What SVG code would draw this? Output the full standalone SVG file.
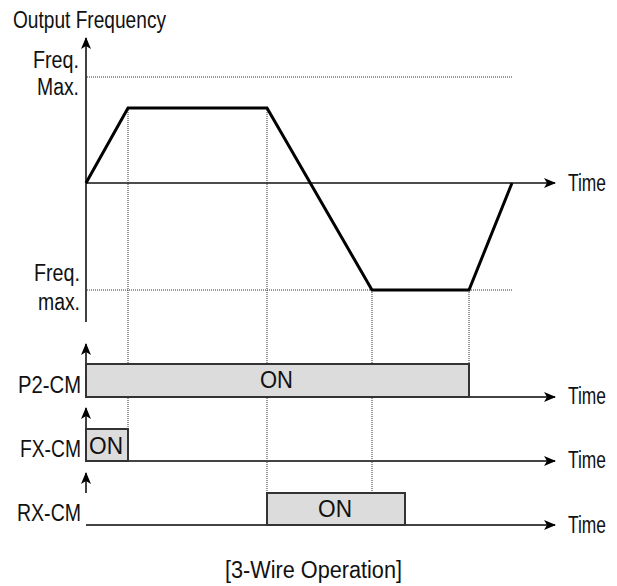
<svg xmlns="http://www.w3.org/2000/svg" width="617" height="586" viewBox="0 0 617 586">
<style>
text{font-family:"Liberation Sans",Arial,sans-serif;font-size:23px;fill:#111;}
.end{text-anchor:end;}
.dot{stroke:#333;stroke-width:1;stroke-dasharray:1 1;fill:none;}
.axis{stroke:#111;stroke-width:1.6;fill:none;}
.taxis{stroke:#444;stroke-width:2;fill:none;}
.wave{stroke:#000;stroke-width:3;fill:none;stroke-linejoin:miter;}
.box{fill:#dcdcdc;stroke:#333;stroke-width:2;}
</style>
<defs>
<marker id="ah" viewBox="0 0 12 10" refX="11" refY="5" markerWidth="12" markerHeight="10" markerUnits="userSpaceOnUse" orient="auto">
<path d="M0,0 L12,5 L0,10 L3,5 Z" fill="#000"/>
</marker>
</defs>
<rect width="617" height="586" fill="#fff"/>
<g id="guides">
<line class="dot" x1="87" y1="77" x2="512" y2="77"/>
<line class="dot" x1="87" y1="290" x2="512" y2="290"/>
<line class="dot" x1="128" y1="108" x2="128" y2="429"/>
<line class="dot" x1="267" y1="108" x2="267" y2="493"/>
<line class="dot" x1="372" y1="290" x2="372" y2="493"/>
<line class="dot" x1="469" y1="290" x2="469" y2="364"/>
</g>
<g id="connectors">
<line class="axis" x1="86" y1="322" x2="86" y2="38" marker-end="url(#ah)"/>
<line class="axis" x1="86" y1="183" x2="555" y2="183" marker-end="url(#ah)"/>
<line class="taxis" x1="86" y1="397" x2="555" y2="397" marker-end="url(#ah)"/>
<line class="taxis" x1="86" y1="461" x2="555" y2="461" marker-end="url(#ah)"/>
<line class="taxis" x1="86" y1="525" x2="555" y2="525" marker-end="url(#ah)"/>
<line class="axis" x1="86" y1="364" x2="86" y2="344" marker-end="url(#ah)"/>
<line class="axis" x1="86" y1="429" x2="86" y2="408" marker-end="url(#ah)"/>
<line class="axis" x1="86" y1="493" x2="86" y2="473" marker-end="url(#ah)"/>
</g>
<g id="waveform">
<polyline class="wave" points="86,183 128,108 267,108 372,290 469,290 512,183"/>
</g>
<g id="p2cm">
<rect class="box" x="86" y="364" width="383" height="33"/>
<text x="260" y="388" textLength="33" lengthAdjust="spacingAndGlyphs">ON</text>
<text class="end" x="81" y="393" textLength="63" lengthAdjust="spacingAndGlyphs">P2-CM</text>
</g>
<g id="fxcm">
<rect class="box" x="86" y="429" width="42" height="32"/>
<text x="89" y="454" textLength="34" lengthAdjust="spacingAndGlyphs">ON</text>
<text class="end" x="81" y="457" textLength="61" lengthAdjust="spacingAndGlyphs">FX-CM</text>
</g>
<g id="rxcm">
<rect class="box" x="267" y="493" width="138" height="32"/>
<text x="318" y="517" textLength="34" lengthAdjust="spacingAndGlyphs">ON</text>
<text class="end" x="81" y="521" textLength="64" lengthAdjust="spacingAndGlyphs">RX-CM</text>
</g>
<g id="labels">
<text x="13" y="28" textLength="153" lengthAdjust="spacingAndGlyphs">Output Frequency</text>
<text class="end" x="79" y="68" textLength="46" lengthAdjust="spacingAndGlyphs">Freq.</text>
<text class="end" x="79" y="95" textLength="42" lengthAdjust="spacingAndGlyphs">Max.</text>
<text class="end" x="80" y="281" textLength="46" lengthAdjust="spacingAndGlyphs">Freq.</text>
<text class="end" x="80" y="310" textLength="42" lengthAdjust="spacingAndGlyphs">max.</text>
<text x="568" y="191" textLength="38" lengthAdjust="spacingAndGlyphs">Time</text>
<text x="568" y="404" textLength="38" lengthAdjust="spacingAndGlyphs">Time</text>
<text x="568" y="468" textLength="38" lengthAdjust="spacingAndGlyphs">Time</text>
<text x="568" y="533" textLength="38" lengthAdjust="spacingAndGlyphs">Time</text>
<text x="225" y="578" textLength="177" lengthAdjust="spacingAndGlyphs">[3-Wire Operation]</text>
</g>
</svg>
